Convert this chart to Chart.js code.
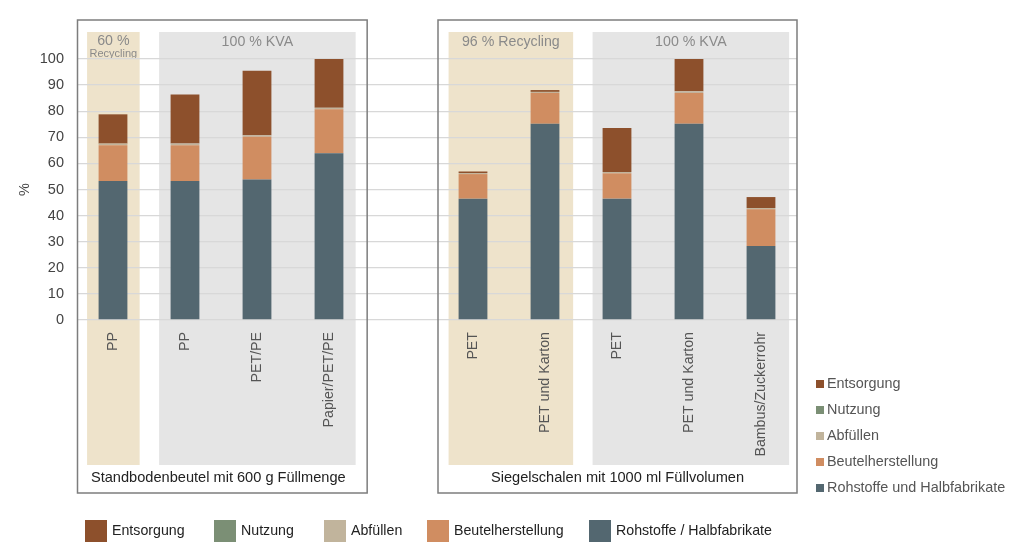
<!DOCTYPE html>
<html>
<head>
<meta charset="utf-8">
<script src="https://cdn.jsdelivr.net/npm/chart.js@4.4.1/dist/chart.umd.min.js"></script>
<style>
html,body{margin:0;padding:0;background:#fff;}
#wrap{width:1024px;height:560px;position:relative;}
</style>
</head>
<body>
<div id="wrap"><canvas id="c"></canvas></div>
<script>
const categories = ['PP','PP','PET/PE','Papier/PET/PE','','PET','PET und Karton','PET','PET und Karton','Bambus/Zuckerrohr'];
const rohstoffe   = [53.3, 53.3, 53.8, 63.9, null, 46.5, 75.2, 46.5, 75.2, 28.4];
const beutel      = [13.7, 13.7, 16.4, 16.8, null,  9.4, 11.8,  9.7, 11.8, 14.0];
const abfuellen   = [ 0.6,  0.6,  0.6,  0.6, null,  0.4,  0.4,  0.5,  0.6,  0.5];
const nutzung     = [ 0,    0,    0,    0,   null,  0,    0,    0,    0,    0  ];
const entsorgung  = [11.2, 18.8, 24.7, 18.7, null,  0.6,  0.7, 16.9, 12.4,  4.2];
const yTicks = [0,10,20,30,40,50,60,70,80,90,100];

const seriesNames = ['Entsorgung','Nutzung','Abfüllen','Beutelherstellung','Rohstoffe / Halbfabrikate'];
const sideNames   = ['Entsorgung','Nutzung','Abfüllen','Beutelherstellung','Rohstoffe und Halbfabrikate'];
const colors = {
  entsorgung:'#8d502c', nutzung:'#7b8f75', abfuellen:'#c1b49c', beutel:'#d08d61', rohstoffe:'#536770'
};
const legendColors = [colors.entsorgung, colors.nutzung, colors.abfuellen, colors.beutel, colors.rohstoffe];
const legendX = [85, 214, 324, 427, 589];

const bands = [
  {from:0,to:0,color:'#eee3cb',label:'60 %',sub:'Recycling'},
  {from:1,to:3,color:'#e5e5e5',label:'100 % KVA'},
  {from:5,to:6,color:'#eee3cb',label:'96 % Recycling'},
  {from:7,to:9,color:'#e5e5e5',label:'100 % KVA'}
];
const groups = [
  {from:0,to:3,label:'Standbodenbeutel mit 600 g Füllmenge'},
  {from:5,to:9,label:'Siegelschalen mit 1000 ml Füllvolumen'}
];

const FONT = '"Liberation Sans", Arial, Helvetica, sans-serif';

const decor = {
  id:'decor',
  beforeDraw(chart){
    const ctx = chart.ctx, x = chart.scales.x, ca = chart.chartArea;
    const cw = x.width / categories.length;
    ctx.save();
    const top = ca.top - 27, bot = ca.bottom + 145;
    bands.forEach((b,i)=>{
      const sh = i >= 2 ? 1.5 : 0;
      const x0 = x.getPixelForValue(b.from) - cw*0.36 + sh;
      const x1 = x.getPixelForValue(b.to) + cw*0.37 + sh;
      ctx.fillStyle = b.color;
      ctx.fillRect(x0, top, x1-x0, bot-top);
      ctx.fillStyle = '#8a8a8a';
      ctx.textAlign = 'center';
      ctx.textBaseline = 'middle';
      ctx.font = '14.2px ' + FONT;
      ctx.fillText(b.label, (x0+x1)/2, top + (b.sub ? 9.5 : 10));
      if (b.sub){
        ctx.font = '11px ' + FONT;
        ctx.fillText(b.sub, (x0+x1)/2, top + 22);
      }
    });
    ctx.restore();
  },
  afterDraw(chart){
    const ctx = chart.ctx, x = chart.scales.x, ca = chart.chartArea;
    const cw = x.width / categories.length;
    ctx.save();
    const btop = ca.top - 39, bbot = ca.bottom + 173;
    groups.forEach((g,i)=>{
      const x0 = x.getPixelForValue(g.from) - cw*0.5 + (i===0?0.5:1);
      const x1 = x.getPixelForValue(g.to) + cw*(i===0?0.53:0.5);
      ctx.strokeStyle = '#7d7d7d';
      ctx.lineWidth = 1.5;
      ctx.strokeRect(x0, btop, x1-x0, bbot-btop);
      ctx.fillStyle = '#222';
      ctx.font = '14.6px ' + FONT;
      ctx.textAlign = 'center';
      ctx.textBaseline = 'middle';
      ctx.fillText(g.label, (x0+x1)/2 - (i===0?4:0), bbot - 15);
    });
    ctx.save();
    ctx.translate(25, (ca.top+ca.bottom)/2);
    ctx.rotate(-Math.PI/2);
    ctx.fillStyle = '#444';
    ctx.font = '14.5px ' + FONT;
    ctx.textAlign = 'center';
    ctx.textBaseline = 'middle';
    ctx.fillText('%', 0, 0);
    ctx.restore();
    ctx.font = '14.4px ' + FONT;
    ctx.textAlign = 'left';
    ctx.textBaseline = 'middle';
    sideNames.forEach((n,i)=>{
      const yy = 384 + i*26;
      ctx.fillStyle = legendColors[i];
      ctx.fillRect(816, yy-4, 8, 8);
      ctx.fillStyle = '#555';
      ctx.fillText(n, 827, yy);
    });
    ctx.font = '14.2px ' + FONT;
    seriesNames.forEach((n,i)=>{
      const lx = legendX[i];
      ctx.fillStyle = legendColors[i];
      ctx.fillRect(lx, 520, 22, 22);
      ctx.fillStyle = '#222';
      ctx.fillText(n, lx+27, 531.5);
    });
    ctx.restore();
  }
};

new Chart(document.getElementById('c'), {
  type:'bar',
  data:{
    labels: categories,
    datasets:[
      {label:'Rohstoffe / Halbfabrikate', data:rohstoffe, backgroundColor:colors.rohstoffe},
      {label:'Beutelherstellung', data:beutel, backgroundColor:colors.beutel},
      {label:'Abfüllen', data:abfuellen, backgroundColor:colors.abfuellen},
      {label:'Nutzung', data:nutzung, backgroundColor:colors.nutzung},
      {label:'Entsorgung', data:entsorgung, backgroundColor:colors.entsorgung}
    ]
  },
  options:{
    responsive:true,
    maintainAspectRatio:false,
    animation:false,
    datasets:{bar:{barPercentage:0.4, categoryPercentage:1.0}},
    layout:{padding:{left:0, top:59, right:227, bottom:0}},
    plugins:{legend:{display:false}, tooltip:{enabled:false}},
    scales:{
      x:{
        stacked:true,
        grid:{display:false, drawTicks:false},
        border:{display:false},
        ticks:{
          autoSkip:false, maxRotation:90, minRotation:90, padding:12,
          color:'#555', font:{family:FONT, size:14.2}
        },
        afterFit(s){ s.height = 240; }
      },
      y:{
        stacked:true,
        min:0, max:100,
        afterBuildTicks(s){ s.ticks = yTicks.map(v=>({value:v})); },
        grid:{color:'#d8d8d8', lineWidth:1.3, drawTicks:false},
        border:{display:false},
        ticks:{padding:13, color:'#444', font:{family:FONT, size:14.5}},
        afterFit(s){ s.width = 77; }
      }
    }
  },
  plugins:[decor]
});
</script>
</body>
</html>
